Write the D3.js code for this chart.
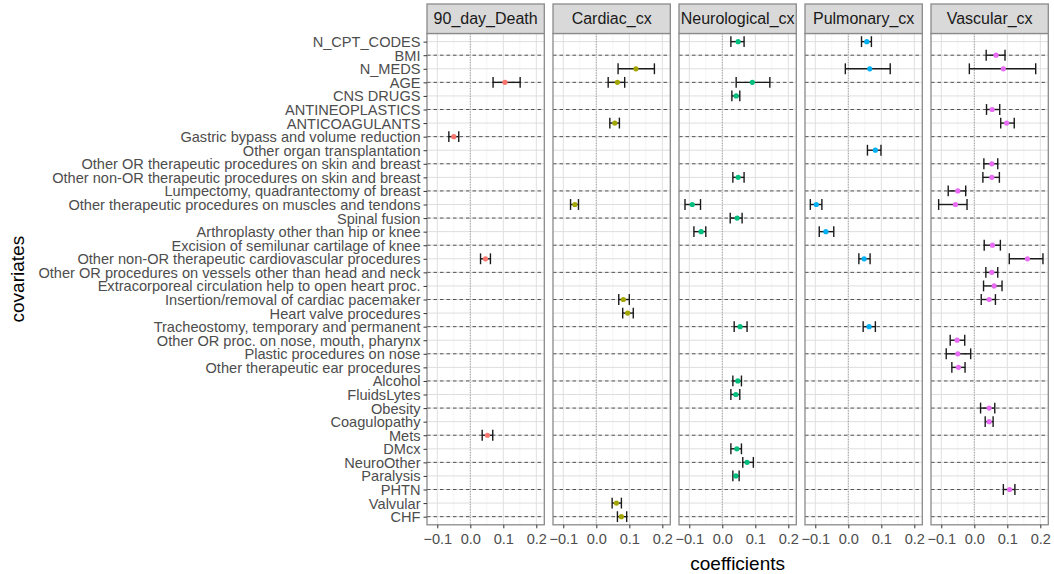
<!DOCTYPE html>
<html>
<head>
<meta charset="utf-8">
<script src="https://cdn.jsdelivr.net/npm/d3@7"></script>
<style>
  html, body { margin: 0; padding: 0; background: #ffffff; }
  svg { display: block; font-family: "Liberation Sans", Arial, sans-serif; }
</style>
</head>
<body>
<svg id="chart" width="1054" height="574"></svg>
<script>
// Covariates, top to bottom
const covariates = [
  "N_CPT_CODES", "BMI", "N_MEDS", "AGE", "CNS DRUGS", "ANTINEOPLASTICS", "ANTICOAGULANTS",
  "Gastric bypass and volume reduction", "Other organ transplantation",
  "Other OR therapeutic procedures on skin and breast",
  "Other non-OR therapeutic procedures on skin and breast",
  "Lumpectomy, quadrantectomy of breast",
  "Other therapeutic procedures on muscles and tendons",
  "Spinal fusion", "Arthroplasty other than hip or knee",
  "Excision of semilunar cartilage of knee",
  "Other non-OR therapeutic cardiovascular procedures",
  "Other OR procedures on vessels other than head and neck",
  "Extracorporeal circulation help to open heart proc.",
  "Insertion/removal of cardiac pacemaker", "Heart valve procedures",
  "Tracheostomy, temporary and permanent",
  "Other OR proc. on nose, mouth, pharynx", "Plastic procedures on nose",
  "Other therapeutic ear procedures",
  "Alcohol", "FluidsLytes", "Obesity", "Coagulopathy", "Mets", "DMcx",
  "NeuroOther", "Paralysis", "PHTN", "Valvular", "CHF"
];

const outcomes = ["90_day_Death", "Cardiac_cx", "Neurological_cx", "Pulmonary_cx", "Vascular_cx"];
const outcomeColors = ["#F8766D", "#A3A500", "#00BF7D", "#00B0F6", "#E76BF3"];

// [covariate, coefficient, lower, upper]
const death90 = [
  ["AGE", 0.105, 0.069, 0.151],
  ["Gastric bypass and volume reduction", -0.050, -0.065, -0.035],
  ["Other non-OR therapeutic cardiovascular procedures", 0.046, 0.031, 0.061],
  ["Mets", 0.052, 0.036, 0.068]
];
const cardiac = [
  ["N_MEDS", 0.120, 0.066, 0.176],
  ["AGE", 0.064, 0.036, 0.086],
  ["ANTICOAGULANTS", 0.056, 0.041, 0.070],
  ["Other therapeutic procedures on muscles and tendons", -0.065, -0.078, -0.054],
  ["Insertion/removal of cardiac pacemaker", 0.082, 0.068, 0.100],
  ["Heart valve procedures", 0.095, 0.080, 0.112],
  ["Valvular", 0.061, 0.048, 0.076],
  ["CHF", 0.076, 0.064, 0.092]
];
const neuro = [
  ["N_CPT_CODES", 0.048, 0.026, 0.066],
  ["AGE", 0.091, 0.042, 0.144],
  ["CNS DRUGS", 0.042, 0.029, 0.053],
  ["Other non-OR therapeutic procedures on skin and breast", 0.048, 0.032, 0.066],
  ["Other therapeutic procedures on muscles and tendons", -0.091, -0.113, -0.066],
  ["Spinal fusion", 0.045, 0.024, 0.060],
  ["Arthroplasty other than hip or knee", -0.064, -0.086, -0.050],
  ["Tracheostomy, temporary and permanent", 0.054, 0.036, 0.075],
  ["Alcohol", 0.047, 0.032, 0.058],
  ["FluidsLytes", 0.041, 0.026, 0.053],
  ["DMcx", 0.044, 0.026, 0.058],
  ["NeuroOther", 0.075, 0.062, 0.094],
  ["Paralysis", 0.041, 0.032, 0.051]
];
const pulmonary = [
  ["N_CPT_CODES", 0.056, 0.040, 0.070],
  ["N_MEDS", 0.065, -0.009, 0.127],
  ["Other organ transplantation", 0.082, 0.058, 0.099],
  ["Other therapeutic procedures on muscles and tendons", -0.097, -0.115, -0.080],
  ["Arthroplasty other than hip or knee", -0.068, -0.088, -0.044],
  ["Other non-OR therapeutic cardiovascular procedures", 0.048, 0.032, 0.066],
  ["Tracheostomy, temporary and permanent", 0.063, 0.045, 0.082]
];
const vascular = [
  ["BMI", 0.066, 0.036, 0.093],
  ["N_MEDS", 0.088, -0.015, 0.186],
  ["ANTINEOPLASTICS", 0.054, 0.037, 0.077],
  ["ANTICOAGULANTS", 0.098, 0.080, 0.121],
  ["Other OR therapeutic procedures on skin and breast", 0.053, 0.029, 0.071],
  ["Other non-OR therapeutic procedures on skin and breast", 0.053, 0.026, 0.076],
  ["Lumpectomy, quadrantectomy of breast", -0.050, -0.079, -0.026],
  ["Other therapeutic procedures on muscles and tendons", -0.057, -0.108, -0.022],
  ["Excision of semilunar cartilage of knee", 0.055, 0.030, 0.079],
  ["Other non-OR therapeutic cardiovascular procedures", 0.161, 0.106, 0.208],
  ["Other OR procedures on vessels other than head and neck", 0.053, 0.035, 0.071],
  ["Extracorporeal circulation help to open heart proc.", 0.060, 0.028, 0.084],
  ["Insertion/removal of cardiac pacemaker", 0.045, 0.021, 0.064],
  ["Other OR proc. on nose, mouth, pharynx", -0.052, -0.073, -0.029],
  ["Plastic procedures on nose", -0.050, -0.085, -0.011],
  ["Other therapeutic ear procedures", -0.048, -0.068, -0.028],
  ["Obesity", 0.045, 0.019, 0.062],
  ["Coagulopathy", 0.045, 0.033, 0.057],
  ["PHTN", 0.107, 0.088, 0.123]
];
const panelData = [death90, cardiac, neuro, pulmonary, vascular];

const xTicks = [-0.1, 0.0, 0.1, 0.2];
const xMinorTicks = [-0.05, 0.05, 0.15];

// ---- layout ----
const svg = d3.select("#chart");
const firstLeft = 427, panelW = 117.3, panelGap = 8.7;
const stripTop = 4, stripH = 29.5;
const panelTop = stripTop + stripH, panelBottom = 524.8;
const labelFont = "Liberation Sans, Arial, sans-serif";

const facet = d3.scaleBand()
  .domain(outcomes)
  .range([firstLeft, firstLeft + outcomes.length * panelW + (outcomes.length - 1) * panelGap])
  .paddingInner(panelGap / (panelW + panelGap));

// shared x scale with 5% expansion on the data range
const allVals = panelData.flat().flatMap(d => [d[2], d[3]]);
const lo = d3.min(allVals), hi = d3.max(allVals);
const pad = (hi - lo) * 0.05;
const x = d3.scaleLinear().domain([lo - pad, hi + pad]).range([0, facet.bandwidth()]);

const y = d3.scalePoint().domain(covariates).range([panelTop, panelBottom]).padding(0.6);
const capH = y.step() * 0.8;

outcomes.forEach((name, k) => {
  const g = svg.append("g").attr("transform", `translate(${facet(name)},0)`);
  const w = facet.bandwidth();

  // panel background
  g.append("rect").attr("x", 0).attr("y", panelTop).attr("width", w)
    .attr("height", panelBottom - panelTop).attr("fill", "#ffffff");

  // minor vertical grid
  g.selectAll(".minor").data(xMinorTicks).join("line")
    .attr("x1", d => x(d)).attr("x2", d => x(d))
    .attr("y1", panelTop).attr("y2", panelBottom)
    .attr("stroke", "#f2f2f2").attr("stroke-width", 0.8);
  // major vertical grid
  g.selectAll(".majorx").data(xTicks).join("line")
    .attr("x1", d => x(d)).attr("x2", d => x(d))
    .attr("y1", panelTop).attr("y2", panelBottom)
    .attr("stroke", "#e0e0e0").attr("stroke-width", 1);
  // major horizontal grid
  g.selectAll(".majory").data(covariates).join("line")
    .attr("x1", 0).attr("x2", w)
    .attr("y1", d => y(d)).attr("y2", d => y(d))
    .attr("stroke", "#dedede").attr("stroke-width", 1);

  // dashed reference rows (every other covariate)
  g.selectAll(".dash").data(covariates.filter((c, i) => i % 2 === 1)).join("line")
    .attr("x1", 0).attr("x2", w)
    .attr("y1", d => y(d)).attr("y2", d => y(d))
    .attr("stroke", "#444444").attr("stroke-width", 0.9)
    .attr("stroke-dasharray", "3.5,3");

  // dotted zero line
  g.append("line")
    .attr("x1", x(0)).attr("x2", x(0)).attr("y1", panelTop).attr("y2", panelBottom)
    .attr("stroke", "#8c8c8c").attr("stroke-width", 0.9).attr("stroke-dasharray", "1,1.6");

  // error bars
  const rows = panelData[k];
  const eb = g.selectAll(".eb").data(rows).join("g");
  eb.append("line")
    .attr("x1", d => x(d[2])).attr("x2", d => x(d[3]))
    .attr("y1", d => y(d[0])).attr("y2", d => y(d[0]))
    .attr("stroke", "#1a1a1a").attr("stroke-width", 1.4);
  eb.append("line")
    .attr("x1", d => x(d[2])).attr("x2", d => x(d[2]))
    .attr("y1", d => y(d[0]) - capH / 2).attr("y2", d => y(d[0]) + capH / 2)
    .attr("stroke", "#1a1a1a").attr("stroke-width", 1.4);
  eb.append("line")
    .attr("x1", d => x(d[3])).attr("x2", d => x(d[3]))
    .attr("y1", d => y(d[0]) - capH / 2).attr("y2", d => y(d[0]) + capH / 2)
    .attr("stroke", "#1a1a1a").attr("stroke-width", 1.4);
  // points
  g.selectAll(".pt").data(rows).join("circle")
    .attr("cx", d => x(d[1])).attr("cy", d => y(d[0])).attr("r", 2.6)
    .attr("fill", outcomeColors[k]);

  // panel border
  g.append("rect").attr("x", 0).attr("y", panelTop).attr("width", w)
    .attr("height", panelBottom - panelTop)
    .attr("fill", "none").attr("stroke", "#8a8a8a").attr("stroke-width", 1.3);

  // strip
  g.append("rect").attr("x", 0).attr("y", stripTop).attr("width", w).attr("height", stripH)
    .attr("fill", "#d9d9d9").attr("stroke", "#8a8a8a").attr("stroke-width", 1.3);
  g.append("text").attr("x", w / 2).attr("y", stripTop + stripH / 2 + 5.5)
    .attr("text-anchor", "middle").attr("font-size", 16).attr("fill", "#1a1a1a")
    .text(name);

  // x axis
  const xa = g.append("g").attr("transform", `translate(0,${panelBottom})`)
    .call(d3.axisBottom(x).tickValues(xTicks).tickFormat(d3.format(".1f")).tickSize(3.5).tickPadding(5));
  xa.select(".domain").remove();
  xa.selectAll("line").attr("stroke", "#333333").attr("stroke-width", 1);
  xa.selectAll("text").attr("font-size", 14.6).attr("fill", "#4d4d4d").attr("font-family", labelFont);
});

// y axis on the first panel
const ya = svg.append("g").attr("transform", `translate(${firstLeft},0)`)
  .call(d3.axisLeft(y).tickSize(3.5).tickPadding(3));
ya.select(".domain").remove();
ya.selectAll("line").attr("stroke", "#333333").attr("stroke-width", 1);
ya.selectAll("text").attr("font-size", 14.6).attr("fill", "#4d4d4d").attr("dy", "0.34em")
  .attr("font-family", labelFont);

// axis titles
const plotMid = (facet(outcomes[0]) + facet(outcomes[outcomes.length - 1]) + facet.bandwidth()) / 2;
svg.append("text").attr("x", plotMid).attr("y", 570)
  .attr("text-anchor", "middle").attr("font-size", 19).attr("fill", "#000000")
  .text("coefficients");
svg.append("text")
  .attr("transform", `translate(24,${(panelTop + panelBottom) / 2}) rotate(-90)`)
  .attr("text-anchor", "middle").attr("font-size", 19).attr("fill", "#000000")
  .text("covariates");
</script>
</body>
</html>
